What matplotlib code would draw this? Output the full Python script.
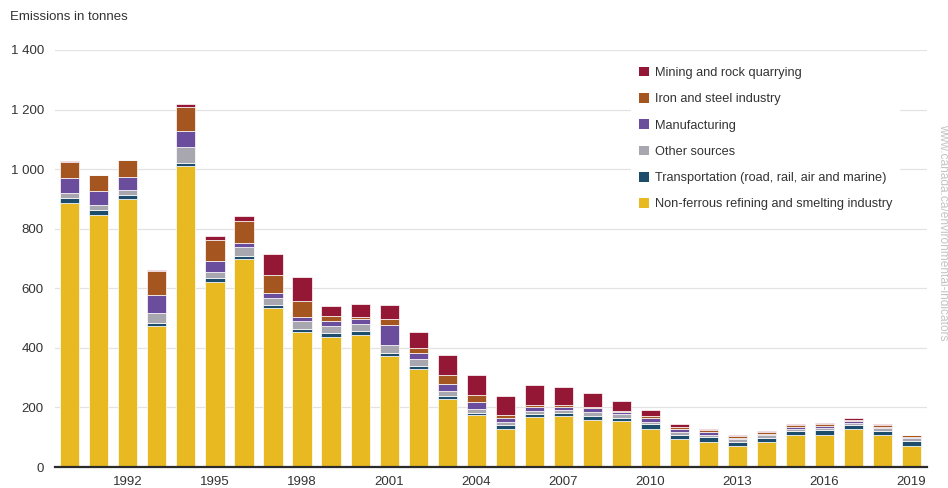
import matplotlib
matplotlib.use("Agg")
import matplotlib.pyplot as plt
import numpy as np
from matplotlib.patches import Patch

plt.rcParams['font.family'] = ['Liberation Sans', 'DejaVu Sans']

years = list(range(1990, 2020))

non_ferrous = [888, 847, 901, 474, 1010, 622, 698, 534, 453, 438,
               443, 374, 330, 227, 174, 129, 167, 170, 158, 154,
               129, 93, 84, 72, 83, 109, 109, 128, 108, 71]
transportation = [16, 16, 11, 9, 10, 12, 11, 10, 11, 11,
                  12, 10, 10, 10, 8, 13, 11, 10, 12, 11,
                  14, 14, 16, 12, 13, 13, 15, 12, 14, 16]
other_sources = [17, 16, 18, 35, 53, 22, 28, 23, 25, 25,
                 25, 24, 24, 19, 12, 9, 10, 10, 13, 13,
                 9, 10, 9, 9, 10, 7, 6, 7, 8, 9]
manufacturing = [48, 48, 45, 58, 55, 34, 16, 17, 13, 17,
                 16, 68, 18, 24, 23, 15, 13, 13, 14, 8,
                 14, 10, 8, 6, 6, 6, 6, 6, 5, 5]
iron_steel = [56, 54, 55, 82, 82, 71, 74, 61, 56, 16,
              7, 20, 19, 28, 26, 7, 6, 6, 5, 3,
              5, 7, 7, 6, 5, 7, 7, 5, 7, 5]
mining = [1, 1, 1, 5, 8, 13, 17, 70, 79, 32,
          44, 47, 53, 68, 67, 65, 67, 60, 45, 33,
          20, 9, 4, 2, 3, 4, 4, 5, 3, 3]

series = [
    ("Non-ferrous refining and smelting industry", non_ferrous, "#E8B920"),
    ("Transportation (road, rail, air and marine)", transportation, "#1D4D6B"),
    ("Other sources", other_sources, "#A8A6AF"),
    ("Manufacturing", manufacturing, "#6A4D9D"),
    ("Iron and steel industry", iron_steel, "#A5551F"),
    ("Mining and rock quarrying", mining, "#951736"),
]

tick_years = [1992, 1995, 1998, 2001, 2004, 2007, 2010, 2013, 2016, 2019]
y_ticks = [0, 200, 400, 600, 800, 1000, 1200, 1400]
y_labels = ["0", "200", "400", "600", "800", "1 000", "1 200", "1 400"]

fig = plt.figure(figsize=(9.48, 4.88), dpi=100)
ax = fig.add_axes([55 / 948, 1 - 467 / 488, (927 - 55) / 948, (467 - 50) / 488])

bottom = np.zeros(len(years))
for name, vals, color in series:
    vals = np.array(vals, dtype=float)
    ax.bar(years, vals, bottom=bottom, width=0.66, color=color,
           edgecolor="white", linewidth=0.5, zorder=3)
    bottom += vals

ax.set_xlim(1989.49, 2019.53)
ax.set_ylim(0, 1400)
ax.set_yticks(y_ticks)
ax.set_yticklabels(y_labels)
ax.set_xticks(tick_years)
ax.set_xticklabels([str(y) for y in tick_years])
ax.tick_params(axis="y", length=0, pad=8, labelsize=9.5, labelcolor="#333333")
ax.tick_params(axis="x", length=0, pad=6.5, labelsize=9.5, labelcolor="#333333")

ax.grid(axis="y", color="#e3e3e3", linewidth=0.9, zorder=0)
for side in ["top", "right", "left"]:
    ax.spines[side].set_visible(False)
ax.spines["bottom"].set_color("#2b2b2b")
ax.spines["bottom"].set_linewidth(1.6)
ax.spines["bottom"].set_zorder(4)

fig.text(10 / 948, 1 - 17 / 488, "Emissions in tonnes", fontsize=9.5,
         color="#333333", va="center", ha="left")

handles = [Patch(facecolor=c, edgecolor="none", label=n) for n, _, c in reversed(series)]
leg = ax.legend(handles=handles, loc="upper left",
                bbox_to_anchor=(631 / 948, 1 - 59 / 488),
                bbox_transform=fig.transFigure,
                frameon=True, facecolor="white", edgecolor="none", framealpha=1,
                fontsize=9.2, handlelength=0.78, handleheight=0.78,
                handletextpad=0.5, labelspacing=1.1, borderpad=0.6,
                borderaxespad=0)
for t in leg.get_texts():
    t.set_color("#333333")
leg.set_zorder(5)

fig.text(943 / 948, 1 - 232 / 488, "www.canada.ca/environmental-indicators",
         rotation=-90, fontsize=8.6, color="#c4c4c4", ha="center", va="center")

fig.savefig("out.png", dpi=100)
